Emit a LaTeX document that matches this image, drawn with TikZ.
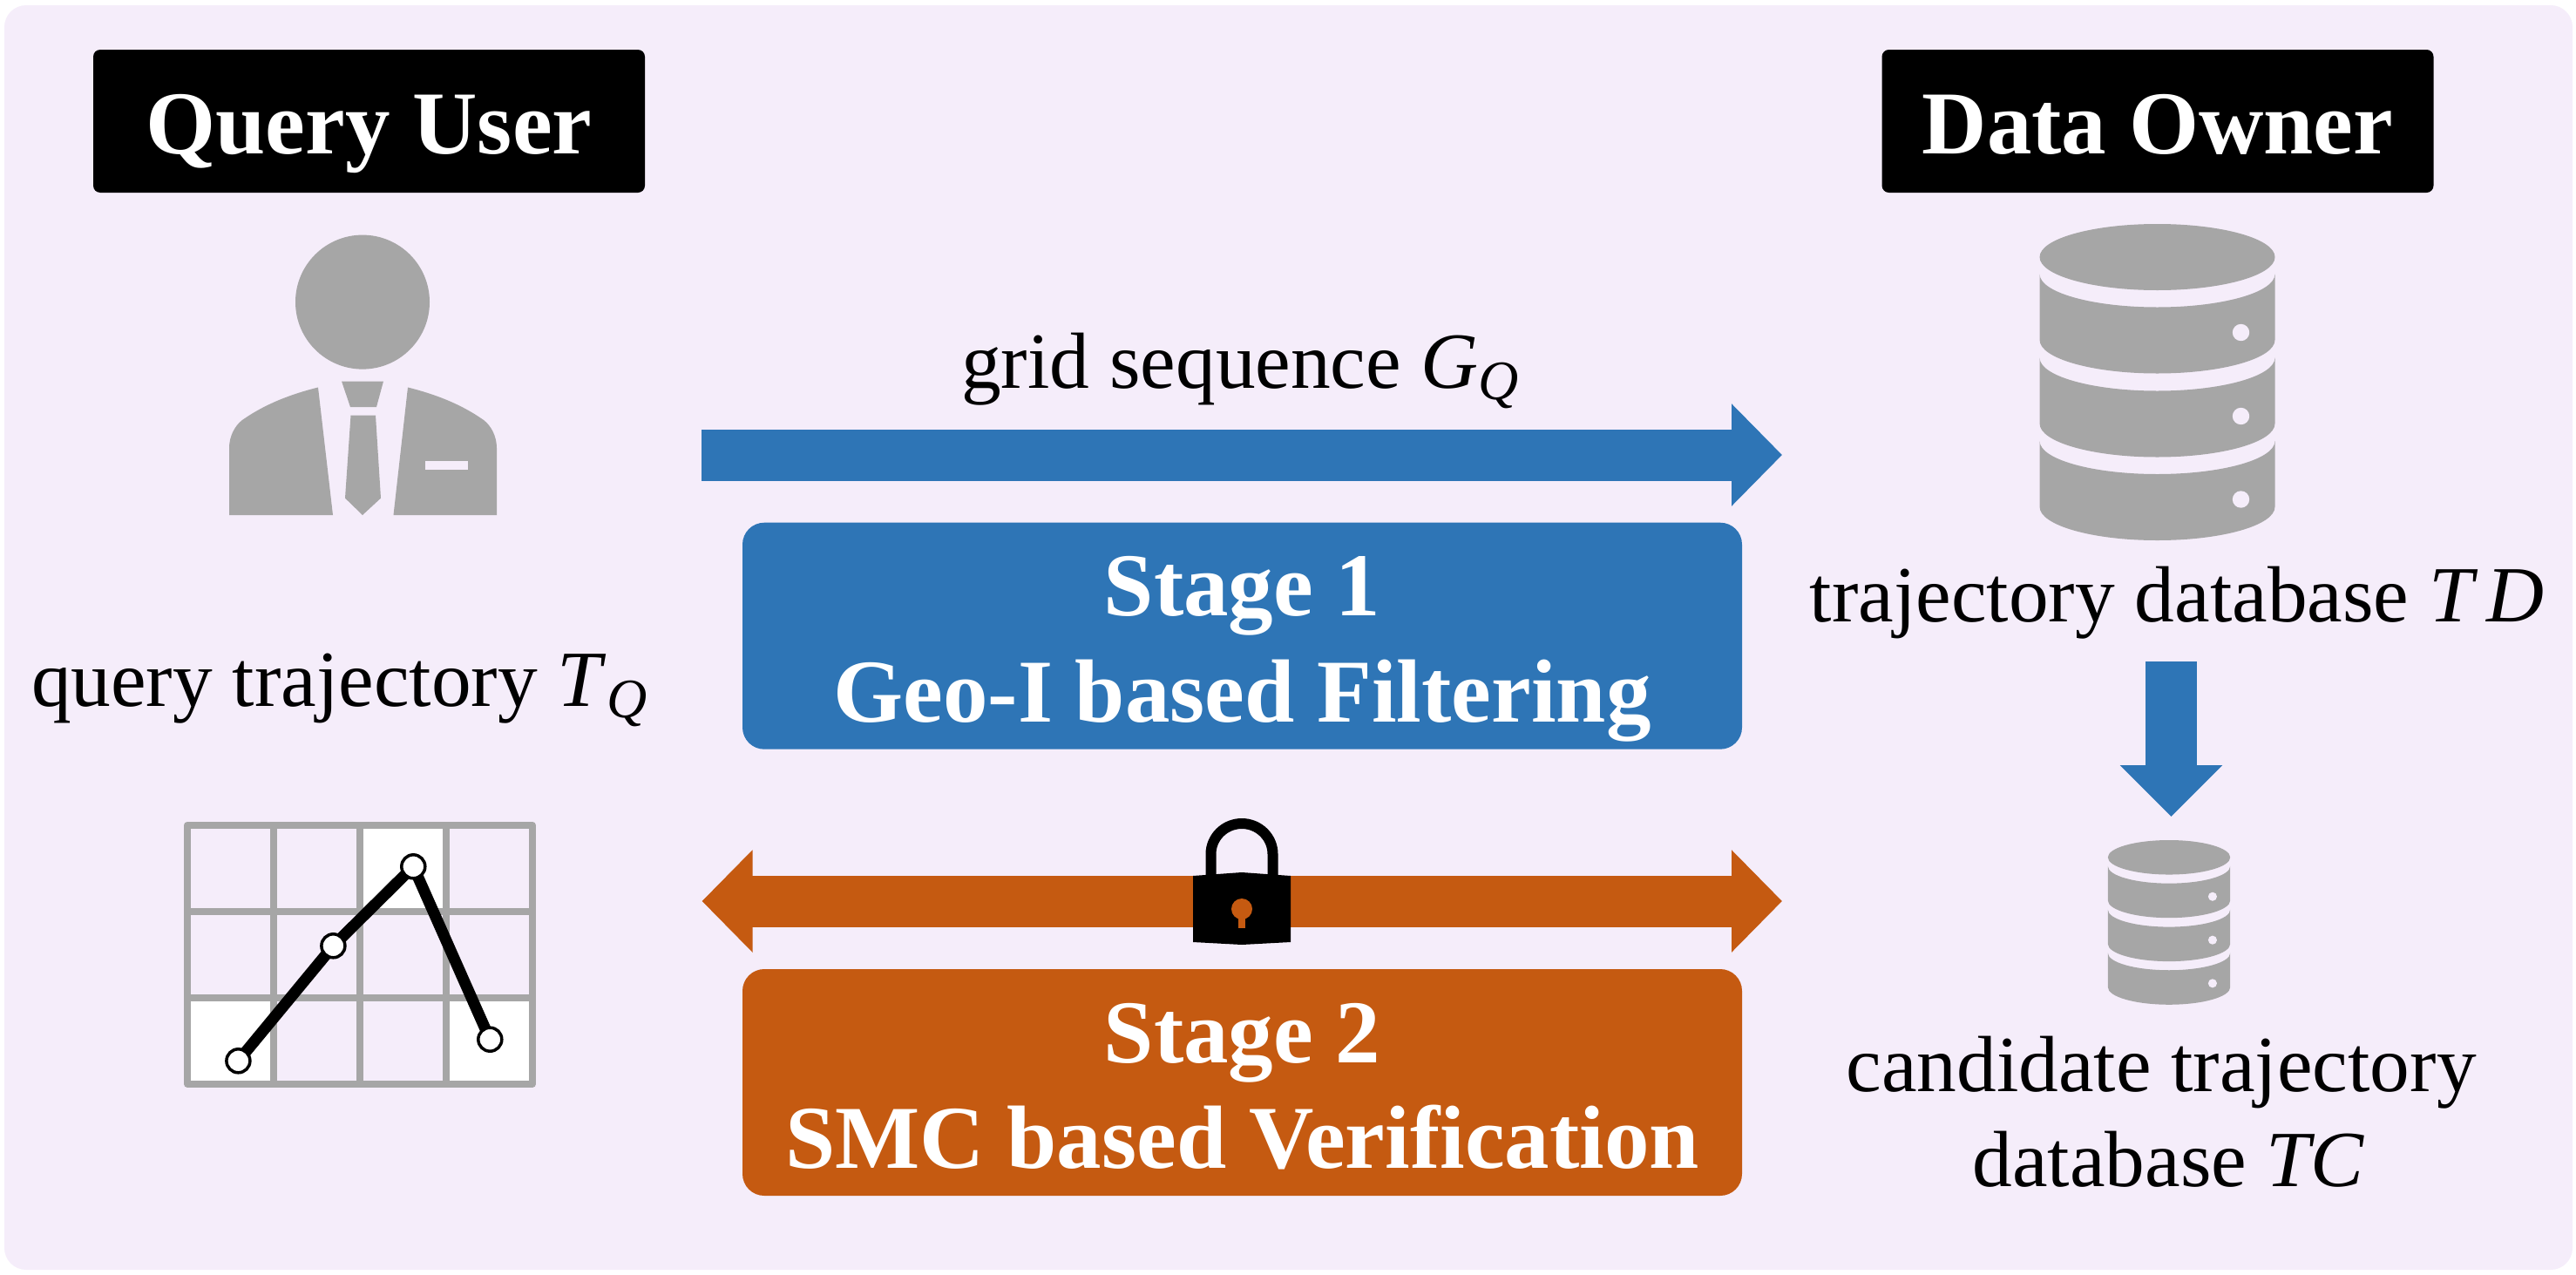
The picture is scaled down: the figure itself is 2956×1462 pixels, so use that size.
\documentclass[tikz,border=0pt]{standalone}
\usepackage{fontspec}
\setmainfont{Liberation Serif}
\usetikzlibrary{arrows.meta}
\definecolor{panelbg}{HTML}{F5EDFA}
\definecolor{icongray}{HTML}{A6A6A6}
\definecolor{stageblue}{HTML}{2E75B6}
\definecolor{stageorange}{HTML}{C55A11}
\newcommand{\labelfont}{\fontsize{26}{31}\selectfont}
\newcommand{\headfont}{\fontsize{29.3}{34.6}\selectfont\bfseries}
\newcommand{\stagetext}[2]{\rule{0pt}{9.9mm}#1\\#2\rule[-2.3mm]{0pt}{2.3mm}}
\tikzset{
    headbox/.style={fill=black,text=white,rounded corners=0.8mm,inner sep=0pt,minimum width=63.3mm,minimum height=16.4mm,text height=9mm,text depth=1.6mm,font=\headfont},
    stagebox/.style={text=white,rounded corners=2.5mm,inner sep=0pt,minimum width=114.7mm,minimum height=26mm,align=center,font=\headfont},
    textlabel/.style={inner sep=0pt,anchor=base,font=\labelfont,align=center},
    trackdot/.style={circle,draw=black,fill=white,line width=0.35mm,inner sep=0pt,minimum size=2.7mm},
    bigarrow/.style={line width=5.9mm},
    pics/dbstack/.style={code={
        \fill[icongray] (0,38) circle [x radius=135,y radius=38];
        \foreach \y in {57.5,153.5,249} {
            \fill[icongray] (-135,\y) arc [start angle=180,end angle=0,x radius=135,y radius=38] -- (135,\y+75.5) arc [start angle=0,end angle=180,x radius=135,y radius=38.5] -- cycle;
            \fill[panelbg] (96,\y+67) circle [radius=9.7];
        }
    }}
}
\begin{document}
\begin{tikzpicture}[x=0.1mm,y=-0.1mm]
    \useasboundingbox (0,0) rectangle (2956,1462);
    \fill[panelbg,rounded corners=2.5mm] (5,6) rectangle (2952,1457);

    \node[headbox] (queryuser) at (423.5,139) {Query User};
    \node[headbox] (dataowner) at (2476,139) {Data Owner};

    \fill[icongray] (416,346.6) circle [radius=77];
    \fill[icongray] (365,444.5) -- (382,591) -- (263,591) -- (263,514) .. controls (263,500) and (270,488) .. (278,482) .. controls (305,463) and (335,452) .. (365,444.5) -- cycle;
    \fill[icongray] (468,444.5) -- (451.5,591) -- (570,591) -- (570,514) .. controls (570,500) and (563,488) .. (555,482) .. controls (528,463) and (498,452) .. (468,444.5) -- cycle;
    \fill[icongray] (392,437.5) -- (440,437.5) -- (432,467) -- (402,467) -- cycle;
    \fill[icongray] (402.5,476.6) -- (431,476.6) -- (437,571.6) -- (416,591) -- (396,571.6) -- cycle;
    \fill[panelbg] (488,529) rectangle (537,539);

    \node[textlabel] (querylabel) at (390,810) {query trajectory \textit{T}\textsubscript{\textit{Q}}};

    \fill[white] (413,946.7) rectangle (512,1045.7);
    \fill[white] (215,1144.7) rectangle (314,1243.7);
    \fill[white] (512,1144.7) rectangle (611,1243.7);
    \draw[icongray,line width=0.8mm,line join=round] (215,946.7) rectangle (611,1243.7);
    \foreach \x in {314,413,512} {
        \draw[icongray,line width=0.8mm] (\x,946.7) -- (\x,1243.7);
    }
    \foreach \y in {1045.7,1144.7} {
        \draw[icongray,line width=0.8mm] (215,\y) -- (611,\y);
    }
    \coordinate (p1) at (273.4,1217.3);
    \coordinate (p2) at (382.4,1085.3);
    \coordinate (p3) at (474.3,994.3);
    \coordinate (p4) at (562.3,1192.7);
    \draw[line width=1.3mm] (p1) -- (p2) -- (p3) -- (p4);
    \node[trackdot] (d1) at (p1) {};
    \node[trackdot] (d2) at (p2) {};
    \node[trackdot] (d3) at (p3) {};
    \node[trackdot] (d4) at (p4) {};

    \node[textlabel] (gridlabel) at (1424,445) {grid sequence \textit{G}\textsubscript{\textit{Q}}};
    \coordinate (gridfrom) at (805,522);
    \coordinate (gridto) at (2045,522);
    \draw[bigarrow,stageblue,-{Triangle[length=5.8mm,width=11.4mm]}] (gridfrom) -- (gridto);

    \node[stagebox,fill=stageblue] (stage1) at (1425.5,729.7) {\stagetext{Stage 1}{Geo-I based Filtering}};

    \coordinate (smcfrom) at (805.5,1034);
    \coordinate (smcto) at (2045,1034);
    \draw[bigarrow,stageorange,{Triangle[length=5.8mm,width=11.4mm]}-{Triangle[length=5.8mm,width=11.4mm]}] (smcfrom) -- (smcto);

    \draw[line width=1.2mm] (1389.5,1005) -- (1389.5,980) arc [start angle=180,end angle=360,x radius=35.5,y radius=35] -- (1460.5,1005);
    \fill (1369,1005) -- (1425,1001) -- (1481,1005) -- (1481,1081) -- (1425,1084) -- (1369,1081) -- cycle;
    \fill[stageorange] (1425,1043) circle [radius=12];
    \fill[stageorange] (1421,1050) rectangle (1429,1065);

    \node[stagebox,fill=stageorange] (stage2) at (1425.5,1242) {\stagetext{Stage 2}{SMC based Verification}};

    \pic at (2475.5,257) {dbstack};
    \node[textlabel] (tdlabel) at (2498,713) {trajectory database \textit{T\,D}};

    \coordinate (filterfrom) at (2491.5,759);
    \coordinate (filterto) at (2491.5,937);
    \draw[bigarrow,stageblue,-{Triangle[length=5.9mm,width=11.4mm]}] (filterfrom) -- (filterto);

    \pic[scale=0.52] at (2489,964) {dbstack};
    \node[textlabel,anchor=center] (tclabel) at (2480,1276) {candidate trajectory\\\hspace*{1.7mm}database \textit{TC}};
\end{tikzpicture}
\end{document}
